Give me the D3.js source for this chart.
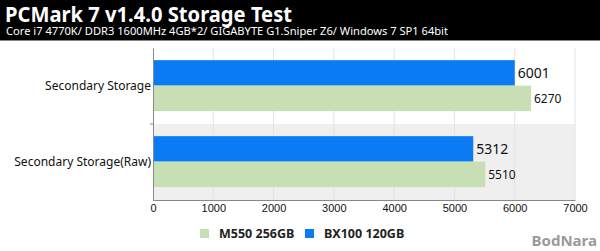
<!DOCTYPE html>
<html>
<head>
<meta charset="utf-8">
<script src="https://cdnjs.cloudflare.com/ajax/libs/d3/7.8.5/d3.min.js"></script>
<style>
  body { margin: 0; background: #fff; }
  svg { display: block; font-family: "Noto Sans", "DejaVu Sans", sans-serif; }
</style>
</head>
<body>
<svg width="600" height="251"></svg>
<script>
var categories = ["Secondary Storage", "Secondary Storage(Raw)"];
var seriesNames = ["BX100 120GB", "M550 256GB"];
var bx100 = [6001, 5312];
var m550 = [6270, 5510];
var xTicks = [0, 1000, 2000, 3000, 4000, 5000, 6000, 7000];
var legendOrder = ["M550 256GB", "BX100 120GB"];

var colors = {"BX100 120GB": "#0a7bf2", "M550 256GB": "#c8deb4"};
var labelSize = {"BX100 120GB": 14, "M550 256GB": 12};

var svg = d3.select("svg"),
    margin = {top: 48, right: 25, bottom: 51, left: 153},
    width = 600 - margin.left - margin.right,
    height = 251 - margin.top - margin.bottom;

// header
svg.append("rect").attr("width", 600).attr("height", 40).attr("fill", "#000");
svg.append("rect").attr("y", 40).attr("width", 600).attr("height", 1).attr("fill", "#888");
svg.append("text").attr("x", 5).attr("y", 22)
    .attr("fill", "#fff").style("font-size", "21px").style("font-weight", "bold")
    .attr("textLength", 287).attr("lengthAdjust", "spacingAndGlyphs")
    .text("PCMark 7 v1.4.0 Storage Test");
svg.append("text").attr("x", 6).attr("y", 35)
    .attr("fill", "#fff").style("font-size", "11px")
    .attr("textLength", 442).attr("lengthAdjust", "spacingAndGlyphs")
    .text("Core i7 4770K/ DDR3 1600MHz 4GB*2/ GIGABYTE G1.Sniper Z6/ Windows 7 SP1 64bit");

var g = svg.append("g").attr("transform", "translate(" + margin.left + "," + margin.top + ")");

var x = d3.scaleLinear().domain([0, 7000]).range([0, width]);
var y0 = d3.scaleBand().domain(categories).range([0, height]);
var y1 = d3.scaleBand().domain(seriesNames)
    .range([y0.bandwidth() * 0.16, y0.bandwidth() * 0.83]);

var rows = categories.map(function(c, i) {
    return {cat: c, values: [
        {name: "BX100 120GB", value: bx100[i]},
        {name: "M550 256GB", value: m550[i]}
    ]};
});

// alternating band
g.selectAll(".band")
    .data(categories.filter(function(d, i) { return i % 2 === 1; }))
    .enter().append("rect")
    .attr("x", 0).attr("y", function(d) { return y0(d); })
    .attr("width", width).attr("height", y0.bandwidth())
    .attr("fill", "#efefef");

// grid
g.selectAll(".grid")
    .data(xTicks.slice(1))
    .enter().append("line")
    .attr("x1", function(d) { return x(d); }).attr("x2", function(d) { return x(d); })
    .attr("y1", 0).attr("y2", height)
    .attr("stroke", "#e2e2e2");

var row = g.selectAll(".row")
    .data(rows)
    .enter().append("g")
    .attr("transform", function(d) { return "translate(0," + y0(d.cat) + ")"; });

row.selectAll("rect")
    .data(function(d) { return d.values; })
    .enter().append("rect")
    .attr("x", 0)
    .attr("y", function(d) { return y1(d.name); })
    .attr("width", function(d) { return x(d.value); })
    .attr("height", y1.bandwidth())
    .attr("fill", function(d) { return colors[d.name]; });

row.selectAll(".val")
    .data(function(d) { return d.values; })
    .enter().append("text")
    .attr("x", function(d) { return x(d.value) + 3; })
    .attr("y", function(d) { return y1(d.name) + y1.bandwidth() / 2; })
    .attr("dy", "0.36em")
    .style("font-size", function(d) { return labelSize[d.name] + "px"; })
    .attr("fill", "#111")
    .text(function(d) { return d.value; });

// axes
var yAxis = g.append("g")
    .call(d3.axisLeft(y0).tickSize(0).tickPadding(2));
yAxis.select(".domain").attr("stroke", "#888");
yAxis.selectAll("text").style("font-size", "12px").attr("fill", "#111")
    .style("font-family", "\"Noto Sans\", sans-serif");

g.selectAll(".ytick")
    .data(categories.slice(1))
    .enter().append("line")
    .attr("x1", -3).attr("x2", 0)
    .attr("y1", function(d) { return y0(d); }).attr("y2", function(d) { return y0(d); })
    .attr("stroke", "#888");

var xAxis = g.append("g")
    .attr("transform", "translate(0," + height + ")")
    .call(d3.axisBottom(x).tickValues(xTicks).tickFormat(d3.format("d")).tickSize(0).tickPadding(4));
xAxis.select(".domain").attr("stroke", "#888");
xAxis.selectAll("text").style("font-size", "11px").attr("fill", "#111");

// legend
var legend = svg.append("g").attr("transform", "translate(200,229)");
var lx = [0, 105];
legend.selectAll("g")
    .data(legendOrder)
    .enter().append("g")
    .attr("transform", function(d, i) { return "translate(" + lx[i] + ",0)"; })
    .each(function(d) {
        var s = d3.select(this);
        s.append("rect").attr("width", 9).attr("height", 9).attr("fill", colors[d]);
        s.append("text").attr("x", 19).attr("y", 9)
            .style("font-size", "12.5px").style("font-weight", "bold").attr("fill", "#222")
            .text(d);
    });

// watermark
svg.append("text").attr("x", 597).attr("y", 246).attr("text-anchor", "end")
    .style("font-size", "15px").style("font-weight", "bold").attr("fill", "#9a9a9a")
    .text("BodNara");
</script>
</body>
</html>
